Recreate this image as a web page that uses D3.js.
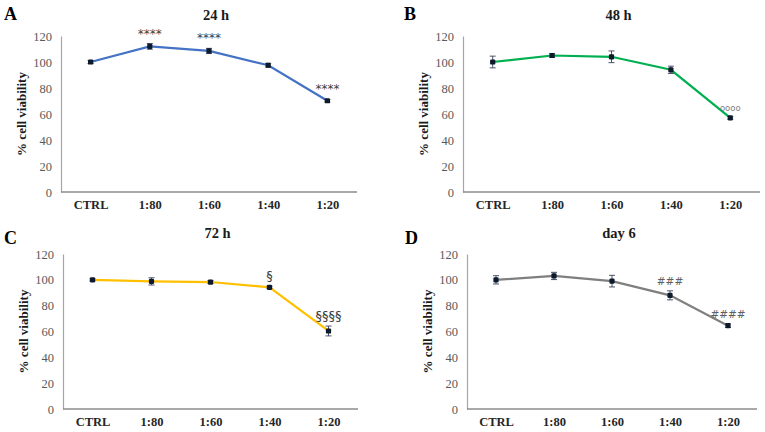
<!DOCTYPE html>
<html>
<head>
<meta charset="utf-8">
<script src="https://cdn.jsdelivr.net/npm/d3@7/dist/d3.min.js"></script>
<style>
  body { margin: 0; background: #fff; }
  svg { display: block; }
</style>
</head>
<body>
<div id="chart"></div>
<script>
// Data
const categories = ['CTRL', '1:80', '1:60', '1:40', '1:20'];
const yTicks = [0, 20, 40, 60, 80, 100, 120];

const values24h = [100, 112, 108.5, 97.5, 70.2];
const errors24h = [1.2, 2.2, 2, 1.5, 1];
const marks24h = ['', '****', '****', '', '****'];

const values48h = [100, 105, 104, 94, 57];
const errors48h = [4.5, 1.5, 4.5, 2.8, 1];
const marks48h = ['', '', '', '', 'oooo'];

const values72h = [100, 98.8, 98.3, 94.2, 60.4];
const errors72h = [0.8, 2.8, 1.2, 0.8, 3.8];
const marks72h = ['', '', '', '§', '§§§§'];

const valuesDay6 = [100, 103, 99, 88, 64.5];
const errorsDay6 = [3.2, 2.8, 4.5, 3.5, 1.4];
const marksDay6 = ['', '', '', '###', '####'];

const panels = [
  { letter: 'A', title: '24 h', values: values24h, errors: errors24h, marks: marks24h, color: '#4472c4',
    left: 61, right: 357, top: 36, bottom: 192, letterX: 4, letterY: 20, markSize: 12, markColor: '#404040' },
  { letter: 'B', title: '48 h', values: values48h, errors: errors48h, marks: marks48h, color: '#00b050',
    left: 463, right: 760, top: 36, bottom: 192, letterX: 404, letterY: 20, markSize: 8.5, markColor: '#808080' },
  { letter: 'C', title: '72 h', values: values72h, errors: errors72h, marks: marks72h, color: '#ffc000',
    left: 63, right: 358, top: 254, bottom: 409, letterX: 4, letterY: 244, markSize: 13, markColor: '#404040' },
  { letter: 'D', title: 'day 6', values: valuesDay6, errors: errorsDay6, marks: marksDay6, color: '#7f7f7f',
    left: 467, right: 757, top: 254, bottom: 409, letterX: 405, letterY: 244, markSize: 10.5, markColor: '#606060' }
];

const svg = d3.select('#chart')
  .append('svg')
  .attr('width', 765)
  .attr('height', 432)
  .style('font-family', '"Liberation Serif", "Times New Roman", serif');

panels.forEach(p => {
  const g = svg.append('g');

  const x = d3.scalePoint()
    .domain(categories)
    .range([p.left, p.right])
    .padding(0.5);

  const y = d3.scaleLinear()
    .domain([0, 120])
    .range([p.bottom, p.top]);

  // y axis: line + grey labels, no ticks
  const yAxis = g.append('g')
    .attr('transform', `translate(${p.left},0)`)
    .call(d3.axisLeft(y).tickValues(yTicks).tickSize(0).tickPadding(9));
  yAxis.select('.domain').attr('stroke', '#a6a6a6').attr('stroke-width', 1.2);
  yAxis.selectAll('text')
    .attr('fill', '#595959')
    .style('font-size', '12.5px')
    .style('font-family', '"Liberation Serif", serif');

  // x axis
  const xAxis = g.append('g')
    .attr('transform', `translate(0,${p.bottom})`)
    .call(d3.axisBottom(x).tickSize(0).tickPadding(8));
  xAxis.select('.domain')
    .attr('d', `M${p.left},0H${p.right}`)
    .attr('stroke', '#8c8c8c').attr('stroke-width', 1.5);
  xAxis.selectAll('text')
    .attr('fill', '#262626')
    .style('font-size', '12.5px')
    .style('font-weight', 'bold')
    .style('font-family', '"Liberation Serif", serif');

  const pts = categories.map((c, i) => ({ c, v: p.values[i], e: p.errors[i], m: p.marks[i] }));

  // series line
  g.append('path')
    .datum(pts)
    .attr('fill', 'none')
    .attr('stroke', p.color)
    .attr('stroke-width', 2.2)
    .attr('d', d3.line().x(d => x(d.c)).y(d => y(d.v)));

  // error bars
  const eb = g.selectAll('.err').data(pts).enter().append('g').attr('class', 'err')
    .attr('stroke', '#3a3f5c').attr('stroke-width', 0.9);
  eb.append('line')
    .attr('x1', d => x(d.c)).attr('x2', d => x(d.c))
    .attr('y1', d => y(d.v - d.e)).attr('y2', d => y(d.v + d.e));
  eb.append('line')
    .attr('x1', d => x(d.c) - 3).attr('x2', d => x(d.c) + 3)
    .attr('y1', d => y(d.v + d.e)).attr('y2', d => y(d.v + d.e));
  eb.append('line')
    .attr('x1', d => x(d.c) - 3).attr('x2', d => x(d.c) + 3)
    .attr('y1', d => y(d.v - d.e)).attr('y2', d => y(d.v - d.e));

  // markers
  g.selectAll('.dot').data(pts).enter().append('rect')
    .attr('x', d => x(d.c) - 2.6).attr('y', d => y(d.v) - 2.6)
    .attr('width', 5.2).attr('height', 5.2)
    .attr('rx', 1.2)
    .attr('fill', '#0d1a2b');

  // significance marks
  g.selectAll('.mark').data(pts.filter(d => d.m)).enter().append('text')
    .attr('x', d => x(d.c))
    .attr('y', d => y(d.v + d.e) - 6)
    .attr('text-anchor', 'middle')
    .attr('fill', p.markColor)
    .style('font-size', p.markSize + 'px')
    .style('font-family', '"DejaVu Sans", sans-serif')
    .text(d => d.m);

  // title
  g.append('text')
    .attr('x', (p.left + p.right) / 2 + 7)
    .attr('y', p.top - 16)
    .attr('text-anchor', 'middle')
    .style('font-size', '14.5px')
    .style('font-weight', 'bold')
    .attr('fill', '#1a1a1a')
    .text(p.title);

  // panel letter
  g.append('text')
    .attr('x', p.letterX)
    .attr('y', p.letterY)
    .style('font-size', '18px')
    .style('font-weight', 'bold')
    .text(p.letter);

  // y label
  g.append('text')
    .attr('transform', `translate(${p.left - 35},${(p.top + p.bottom) / 2}) rotate(-90)`)
    .attr('text-anchor', 'middle')
    .style('font-size', '13px')
    .style('font-weight', 'bold')
    .attr('fill', '#1a1a1a')
    .text('% cell viability');
});
</script>
</body>
</html>
